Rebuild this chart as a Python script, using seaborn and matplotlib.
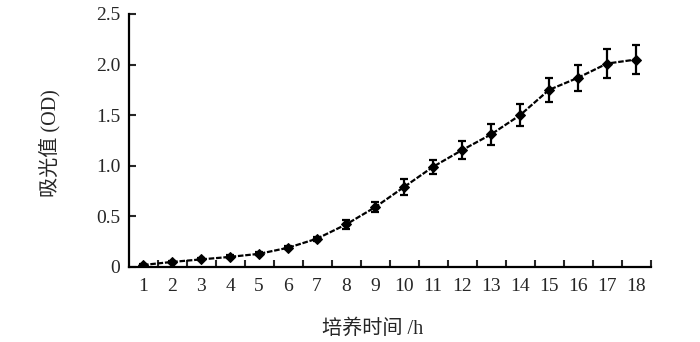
import matplotlib
matplotlib.use("Agg")
import matplotlib.pyplot as plt
import seaborn as sns
import pandas as pd
from matplotlib.ticker import FixedLocator

hours = list(range(1, 19))
od = [0.02, 0.05, 0.075, 0.10, 0.13, 0.19, 0.28, 0.42, 0.59, 0.79,
      0.99, 1.155, 1.31, 1.50, 1.75, 1.87, 2.01, 2.05]
err = [0.01, 0.01, 0.01, 0.015, 0.015, 0.015, 0.02, 0.04, 0.05, 0.08,
       0.07, 0.09, 0.10, 0.11, 0.115, 0.13, 0.14, 0.14]
yticks = [0, 0.5, 1.0, 1.5, 2.0, 2.5]
ytick_labels = ["0", "0.5", "1.0", "1.5", "2.0", "2.5"]
xlabel = "培养时间 /h"
ylabel = "吸光值 (OD)"

sns.set_style("ticks")
plt.rcParams['font.family'] = ['Liberation Serif', 'Noto Sans CJK SC', 'DejaVu Sans']

df = pd.DataFrame({"hour": hours, "od": od})

fig = plt.figure(figsize=(7, 3.42), dpi=100)
ax = fig.add_axes([0.1836, 0.2193, 0.7457, 0.7398])

sns.lineplot(data=df, x="hour", y="od", ax=ax, color="black",
             linestyle=(0, (2.5, 0.8)), linewidth=1.6, marker="D",
             markersize=5, markeredgecolor="black", markerfacecolor="black")
ax.errorbar(hours, od, yerr=err, fmt="none", ecolor="black",
            elinewidth=1.6, capsize=3, capthick=1.6)

ax.set_xlim(0.5, 18.5)
ax.set_ylim(0, 2.5)
ax.set_xticks(hours)
ax.set_xticklabels([str(h) for h in hours])
ax.xaxis.set_minor_locator(FixedLocator([h + 0.5 for h in range(1, 19)]))
ax.tick_params(axis="x", which="major", length=0, pad=8, labelsize=14)
ax.tick_params(axis="x", which="minor", direction="in", length=5, width=1.5)
ax.set_yticks(yticks)
ax.set_yticklabels(ytick_labels)
ax.tick_params(axis="y", direction="in", length=5, width=1.5, labelsize=14, pad=6)

for s in ["top", "right"]:
    ax.spines[s].set_visible(False)
for s in ["left", "bottom"]:
    ax.spines[s].set_linewidth(1.6)
    ax.spines[s].set_color("black")

ax.set_xlabel(xlabel, fontsize=14.5)
ax.xaxis.set_label_coords(0.467, -0.205)
ax.set_ylabel(ylabel, fontsize=14.5)
ax.yaxis.set_label_coords(-0.131, 0.49)

fig.savefig("out.png", dpi=100)
